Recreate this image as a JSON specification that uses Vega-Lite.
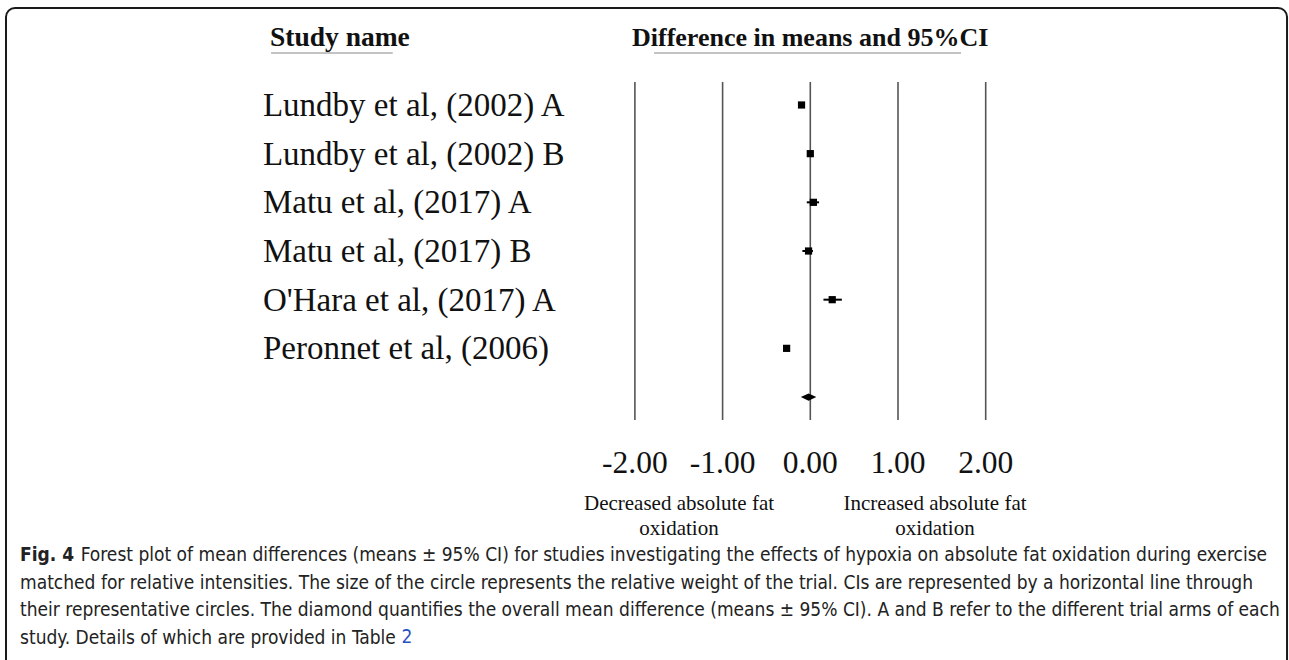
{
  "$schema": "https://vega.github.io/schema/vega-lite/v6.json",
  "width": 1289,
  "height": 660,
  "autosize": {"type": "fit", "contains": "padding"},
  "padding": 0,
  "background": "white",
  "config": {"view": {"stroke": null}},
  "data": {"values": [{}]},
  "datasets": {
    "studies": [
      {"study": "Lundby et al, (2002) A", "row": 1, "est": -0.10, "lo": -0.13, "hi": -0.07},
      {"study": "Lundby et al, (2002) B", "row": 2, "est": 0.00, "lo": -0.03, "hi": 0.03},
      {"study": "Matu et al, (2017) A", "row": 3, "est": 0.035, "lo": -0.04, "hi": 0.10},
      {"study": "Matu et al, (2017) B", "row": 4, "est": -0.02, "lo": -0.09, "hi": 0.03},
      {"study": "O'Hara et al, (2017) A", "row": 5, "est": 0.25, "lo": 0.15, "hi": 0.36},
      {"study": "Peronnet et al, (2006)", "row": 6, "est": -0.27, "lo": -0.30, "hi": -0.24}
    ],
    "overall": [
      {"row": 7, "est": -0.02, "lo": -0.11, "hi": 0.07}
    ],
    "ticks": [
      {"v": -2, "label": "-2.00"},
      {"v": -1, "label": "-1.00"},
      {"v": 0, "label": "0.00"},
      {"v": 1, "label": "1.00"},
      {"v": 2, "label": "2.00"}
    ]
  },
  "encoding": {
    "x": {"type": "quantitative", "scale": {"domain": [-9.2395, 5.4584], "nice": false, "zero": false}, "axis": null},
    "y": {"type": "quantitative", "scale": {"domain": [-1.157, 12.403], "nice": false, "zero": false, "reverse": true}, "axis": null}
  },
  "layer": [
    {
      "mark": {"type": "rect", "fill": null, "stroke": "#1a1a1a", "strokeWidth": 2, "cornerRadius": 9, "clip": true},
      "encoding": {
        "x": {"datum": -9.171, "type": "quantitative"},
        "x2": {"datum": 5.436},
        "y": {"datum": -0.993, "type": "quantitative"},
        "y2": {"datum": 14}
      }
    },
    {
      "data": {"name": "ticks"},
      "mark": {"type": "rule", "stroke": "#555555", "strokeWidth": 1.6},
      "encoding": {
        "x": {"field": "v", "type": "quantitative"},
        "y": {"datum": 0.527, "type": "quantitative"},
        "y2": {"datum": 7.472}
      }
    },
    {
      "data": {"name": "ticks"},
      "mark": {"type": "text", "font": "Liberation Serif", "fontSize": 31.5, "align": "center", "baseline": "alphabetic", "color": "#111111"},
      "encoding": {
        "x": {"field": "v", "type": "quantitative"},
        "y": {"datum": 8.561, "type": "quantitative"},
        "text": {"field": "label"}
      }
    },
    {
      "data": {"name": "studies"},
      "mark": {"type": "text", "font": "Liberation Serif", "fontSize": 33, "align": "left", "baseline": "alphabetic", "dy": 11, "color": "#111111"},
      "encoding": {
        "x": {"datum": -6.241, "type": "quantitative"},
        "y": {"field": "row", "type": "quantitative"},
        "text": {"field": "study"}
      }
    },
    {
      "data": {"name": "studies"},
      "mark": {"type": "rule", "color": "black", "strokeWidth": 2},
      "encoding": {
        "x": {"field": "lo", "type": "quantitative"},
        "x2": {"field": "hi"},
        "y": {"field": "row", "type": "quantitative"}
      }
    },
    {
      "data": {"name": "studies"},
      "mark": {"type": "point", "shape": "square", "filled": true, "color": "black", "size": 52, "opacity": 1},
      "encoding": {
        "x": {"field": "est", "type": "quantitative"},
        "y": {"field": "row", "type": "quantitative"}
      }
    },
    {
      "data": {"name": "overall"},
      "mark": {"type": "point", "shape": "M-1,0L0,-0.47L1,0L0,0.47Z", "filled": true, "color": "black", "size": 240, "opacity": 1},
      "encoding": {
        "x": {"field": "est", "type": "quantitative"},
        "y": {"field": "row", "type": "quantitative"}
      }
    },
    {
      "mark": {"type": "text", "font": "Liberation Serif", "fontSize": 27.5, "fontWeight": "bold", "align": "left", "baseline": "alphabetic", "color": "#111111"},
      "encoding": {
        "x": {"datum": -6.161, "type": "quantitative"},
        "y": {"datum": -0.212, "type": "quantitative"},
        "text": {"value": "Study name"}
      }
    },
    {
      "mark": {"type": "text", "font": "Liberation Serif", "fontSize": 26, "fontWeight": "bold", "align": "left", "baseline": "alphabetic", "color": "#111111"},
      "encoding": {
        "x": {"datum": -2.033, "type": "quantitative"},
        "y": {"datum": -0.212, "type": "quantitative"},
        "text": {"value": "Difference in means and 95%CI"}
      }
    },
    {
      "mark": {"type": "rule", "stroke": "#888888", "strokeWidth": 1.2},
      "encoding": {
        "x": {"datum": -6.149, "type": "quantitative"},
        "x2": {"datum": -4.761},
        "y": {"datum": -0.068, "type": "quantitative"}
      }
    },
    {
      "mark": {"type": "rule", "stroke": "#888888", "strokeWidth": 1.2},
      "encoding": {
        "x": {"datum": -1.782, "type": "quantitative"},
        "x2": {"datum": 1.719},
        "y": {"datum": -0.068, "type": "quantitative"}
      }
    },
    {
      "mark": {"type": "text", "font": "Liberation Serif", "fontSize": 21, "align": "center", "baseline": "alphabetic", "lineBreak": "\n", "lineHeight": 25, "color": "#111111"},
      "encoding": {
        "x": {"datum": -1.497, "type": "quantitative"},
        "y": {"datum": 9.321, "type": "quantitative"},
        "text": {"value": "Decreased absolute fat\noxidation"}
      }
    },
    {
      "mark": {"type": "text", "font": "Liberation Serif", "fontSize": 21, "align": "center", "baseline": "alphabetic", "lineBreak": "\n", "lineHeight": 25, "color": "#111111"},
      "encoding": {
        "x": {"datum": 1.422, "type": "quantitative"},
        "y": {"datum": 9.321, "type": "quantitative"},
        "text": {"value": "Increased absolute fat\noxidation"}
      }
    },
    {
      "mark": {"type": "text", "font": "DejaVu Sans Condensed", "fontSize": 19, "fontWeight": "bold", "align": "left", "baseline": "alphabetic", "color": "#222222"},
      "encoding": {
        "x": {"datum": -9.011, "type": "quantitative"},
        "y": {"datum": 10.369, "type": "quantitative"},
        "text": {"value": "Fig. 4"}
      }
    },
    {
      "mark": {"type": "text", "font": "DejaVu Sans Condensed", "fontSize": 19, "align": "left", "baseline": "alphabetic", "color": "#222222"},
      "encoding": {
        "x": {"datum": -8.32, "type": "quantitative"},
        "y": {"datum": 10.369, "type": "quantitative"},
        "text": {"value": "Forest plot of mean differences (means ± 95% CI) for studies investigating the effects of hypoxia on absolute fat oxidation during exercise"}
      }
    },
    {
      "mark": {"type": "text", "font": "DejaVu Sans Condensed", "fontSize": 19, "align": "left", "baseline": "alphabetic", "lineBreak": "\n", "lineHeight": 27.5, "color": "#222222"},
      "encoding": {
        "x": {"datum": -9.011, "type": "quantitative"},
        "y": {"datum": 10.934, "type": "quantitative"},
        "text": {"value": "matched for relative intensities. The size of the circle represents the relative weight of the trial. CIs are represented by a horizontal line through\ntheir representative circles. The diamond quantifies the overall mean difference (means ± 95% CI). A and B refer to the different trial arms of each\nstudy. Details of which are provided in Table"}
      }
    },
    {
      "mark": {"type": "text", "font": "DejaVu Sans Condensed", "fontSize": 19, "align": "left", "baseline": "alphabetic", "color": "#2a52be"},
      "encoding": {
        "x": {"datum": -4.66, "type": "quantitative"},
        "y": {"datum": 12.063, "type": "quantitative"},
        "text": {"value": "2"}
      }
    }
  ]
}
